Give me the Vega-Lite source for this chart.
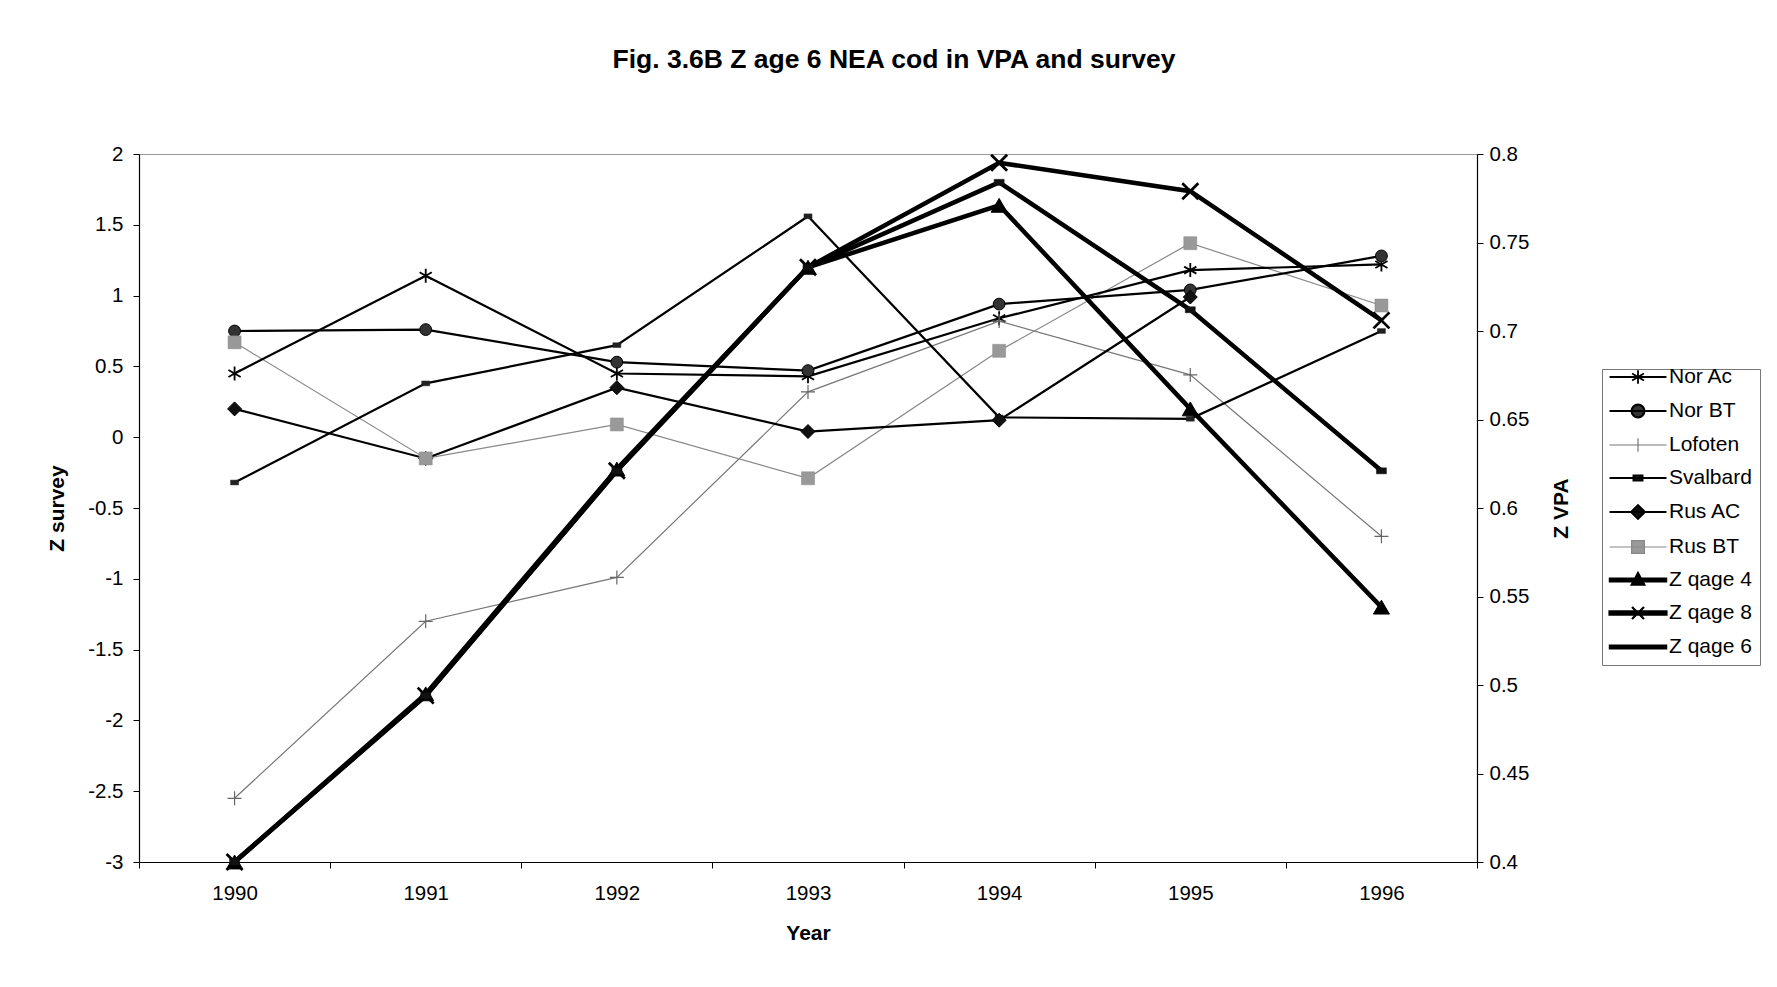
{
  "$schema": "https://vega.github.io/schema/vega-lite/v6.json",
  "width": 1338,
  "height": 708,
  "autosize": {"type": "none"},
  "padding": {"left": 139, "top": 154, "right": 300, "bottom": 125},
  "background": "white",
  "title": {
    "text": "Fig. 3.6B Z age 6 NEA cod in VPA and survey",
    "font": "Liberation Sans",
    "fontSize": 26.5,
    "fontWeight": "bold",
    "color": "#000",
    "anchor": "middle",
    "frame": "group",
    "dx": 86,
    "offset": 50,
    "baseline": "alphabetic"
  },
  "datasets": {
    "survey": [
      {"year": 1990, "series": "Nor Ac", "v": 0.45},
      {"year": 1991, "series": "Nor Ac", "v": 1.14},
      {"year": 1992, "series": "Nor Ac", "v": 0.45},
      {"year": 1993, "series": "Nor Ac", "v": 0.43},
      {"year": 1994, "series": "Nor Ac", "v": 0.84},
      {"year": 1995, "series": "Nor Ac", "v": 1.18},
      {"year": 1996, "series": "Nor Ac", "v": 1.22},
      {"year": 1990, "series": "Nor BT", "v": 0.75},
      {"year": 1991, "series": "Nor BT", "v": 0.76},
      {"year": 1992, "series": "Nor BT", "v": 0.53},
      {"year": 1993, "series": "Nor BT", "v": 0.47},
      {"year": 1994, "series": "Nor BT", "v": 0.94},
      {"year": 1995, "series": "Nor BT", "v": 1.04},
      {"year": 1996, "series": "Nor BT", "v": 1.28},
      {"year": 1990, "series": "Lofoten", "v": -2.55},
      {"year": 1991, "series": "Lofoten", "v": -1.3},
      {"year": 1992, "series": "Lofoten", "v": -0.99},
      {"year": 1993, "series": "Lofoten", "v": 0.32},
      {"year": 1994, "series": "Lofoten", "v": 0.82},
      {"year": 1995, "series": "Lofoten", "v": 0.44},
      {"year": 1996, "series": "Lofoten", "v": -0.7},
      {"year": 1990, "series": "Svalbard", "v": -0.32},
      {"year": 1991, "series": "Svalbard", "v": 0.38},
      {"year": 1992, "series": "Svalbard", "v": 0.65},
      {"year": 1993, "series": "Svalbard", "v": 1.56},
      {"year": 1994, "series": "Svalbard", "v": 0.14},
      {"year": 1995, "series": "Svalbard", "v": 0.13},
      {"year": 1996, "series": "Svalbard", "v": 0.75},
      {"year": 1990, "series": "Rus AC", "v": 0.2},
      {"year": 1991, "series": "Rus AC", "v": -0.15},
      {"year": 1992, "series": "Rus AC", "v": 0.35},
      {"year": 1993, "series": "Rus AC", "v": 0.04},
      {"year": 1994, "series": "Rus AC", "v": 0.12},
      {"year": 1995, "series": "Rus AC", "v": 0.99},
      {"year": 1990, "series": "Rus BT", "v": 0.67},
      {"year": 1991, "series": "Rus BT", "v": -0.15},
      {"year": 1992, "series": "Rus BT", "v": 0.09},
      {"year": 1993, "series": "Rus BT", "v": -0.29},
      {"year": 1994, "series": "Rus BT", "v": 0.61},
      {"year": 1995, "series": "Rus BT", "v": 1.37},
      {"year": 1996, "series": "Rus BT", "v": 0.93}
    ],
    "vpa": [
      {"year": 1990, "series": "Z qage 4", "v": 0.4},
      {"year": 1991, "series": "Z qage 4", "v": 0.495},
      {"year": 1992, "series": "Z qage 4", "v": 0.622},
      {"year": 1993, "series": "Z qage 4", "v": 0.736},
      {"year": 1994, "series": "Z qage 4", "v": 0.771},
      {"year": 1995, "series": "Z qage 4", "v": 0.656},
      {"year": 1996, "series": "Z qage 4", "v": 0.544},
      {"year": 1990, "series": "Z qage 8", "v": 0.4},
      {"year": 1991, "series": "Z qage 8", "v": 0.494},
      {"year": 1992, "series": "Z qage 8", "v": 0.621},
      {"year": 1993, "series": "Z qage 8", "v": 0.736},
      {"year": 1994, "series": "Z qage 8", "v": 0.795},
      {"year": 1995, "series": "Z qage 8", "v": 0.779},
      {"year": 1996, "series": "Z qage 8", "v": 0.706},
      {"year": 1990, "series": "Z qage 6", "v": 0.4},
      {"year": 1991, "series": "Z qage 6", "v": 0.494},
      {"year": 1992, "series": "Z qage 6", "v": 0.621},
      {"year": 1993, "series": "Z qage 6", "v": 0.736},
      {"year": 1994, "series": "Z qage 6", "v": 0.784},
      {"year": 1995, "series": "Z qage 6", "v": 0.712},
      {"year": 1996, "series": "Z qage 6", "v": 0.621}
    ]
  },
  "config": {
    "view": {"stroke": "#999", "strokeWidth": 1},
    "axis": {
      "labelFont": "Liberation Sans",
      "labelFontSize": 20.5,
      "labelColor": "#000",
      "titleFont": "Liberation Sans",
      "titleFontSize": 21,
      "titleFontWeight": "bold",
      "titleColor": "#000",
      "domainColor": "#000",
      "domainWidth": 1.2,
      "tickColor": "#000",
      "tickSize": 6,
      "grid": false
    },
    "legend": {
      "labelFont": "Liberation Sans",
      "labelFontSize": 21,
      "labelColor": "#000",
      "strokeColor": "#777",
      "padding": 8,
      "rowPadding": 12,
      "symbolSize": 256
    }
  },
  "encoding": {
    "x": {
      "field": "year",
      "type": "ordinal",
      "bandPosition": 0.5,
      "scale": {"type": "band", "paddingInner": 0, "paddingOuter": 0},
      "axis": {"title": "Year", "labelAngle": 0, "tickBand": "extent", "labelPadding": 15, "titlePadding": 19}
    }
  },
  "layer": [
    {
      "data": {"name": "survey"},
      "encoding": {
        "y": {
          "field": "v",
          "type": "quantitative",
          "scale": {"domain": [-3, 2], "nice": false, "zero": false},
          "axis": {
            "title": "Z survey",
            "orient": "left",
            "values": [-3, -2.5, -2, -1.5, -1, -0.5, 0, 0.5, 1, 1.5, 2],
            "labelExpr": "toString(datum.value)",
            "labelPadding": 10,
            "titlePadding": 20
          }
        }
      },
      "layer": [
        {
          "transform": [{"filter": {"field": "series", "oneOf": ["Lofoten", "Rus BT"]}}],
          "mark": {"type": "line", "strokeWidth": 1.2},
          "encoding": {
            "color": {
              "field": "series",
              "type": "nominal",
              "scale": {
                "domain": ["Nor Ac", "Nor BT", "Lofoten", "Svalbard", "Rus AC", "Rus BT", "Z qage 4", "Z qage 8", "Z qage 6"],
                "range": ["#000", "#000", "#777", "#000", "#000", "#888", "#000", "#000", "#000"]
              },
              "legend": {
                "title": null,
                "orient": "none",
                "legendX": 1463,
                "legendY": 215,
                "encode": {
                  "symbols": {
                    "update": {
                      "shape": {"signal": "['M-0.06,0H7.06M3.5,-0.85V0.85M2.76,-0.43L4.24,0.43M2.76,0.43L4.24,-0.43','M-0.06,0H7.06M4.3,0A0.8,0.8,0,1,1,2.7,0A0.8,0.8,0,1,1,4.3,0Z','M-0.06,0H7.06M3.5,-0.85V0.85','M-0.06,0H7.06M2.94,-0.31H4.06V0.31H2.94Z','M-0.06,0H7.06M3.5,-0.85L4.35,0L3.5,0.85L2.65,0Z','M-0.06,0H7.06M2.7,-0.8H4.3V0.8H2.7Z','M-0.06,-0.22H7.06V0.22H-0.06ZM3.5,-0.95L4.35,0.62H2.65Z','M-0.06,-0.22H7.06V0.22H-0.06ZM2.75,-0.75L4.25,0.75M2.75,0.75L4.25,-0.75','M-0.06,-0.22H7.06V0.22H-0.06Z'][indexof(['Nor Ac','Nor BT','Lofoten','Svalbard','Rus AC','Rus BT','Z qage 4','Z qage 8','Z qage 6'], datum.value)]"},
                      "fill": {"signal": "['transparent','#333','transparent','#222','#111','#999','#000','#000','#000'][indexof(['Nor Ac','Nor BT','Lofoten','Svalbard','Rus AC','Rus BT','Z qage 4','Z qage 8','Z qage 6'], datum.value)]"},
                      "stroke": {"signal": "['#000','#000','#777','#000','#000','#888','#000','#000','#000'][indexof(['Nor Ac','Nor BT','Lofoten','Svalbard','Rus AC','Rus BT','Z qage 4','Z qage 8','Z qage 6'], datum.value)]"},
                      "strokeWidth": {"signal": "[1.8,2.2,1.2,2,2.2,1.2,1.5,2.2,1.5][indexof(['Nor Ac','Nor BT','Lofoten','Svalbard','Rus AC','Rus BT','Z qage 4','Z qage 8','Z qage 6'], datum.value)]"},
                      "opacity": {"value": 1}
                    }
                  },
                  "labels": {
                    "update": {
                      "dx": {"value": 59}
                    }
                  }
                }
              }
            }
          }
        },
        {
          "transform": [{"filter": {"field": "series", "oneOf": ["Nor Ac", "Nor BT", "Svalbard", "Rus AC"]}}],
          "mark": {"type": "line", "strokeWidth": 2.2},
          "encoding": {
            "color": {"field": "series", "type": "nominal"}
          }
        },
        {
          "transform": [{"filter": {"field": "series", "equal": "Nor Ac"}}],
          "mark": {"type": "point", "shape": "M0,-1V1M-0.87,-0.5L0.87,0.5M-0.87,0.5L0.87,-0.5", "size": 196, "filled": false, "stroke": "#000", "strokeWidth": 1.8, "opacity": 1},
          "encoding": {}
        },
        {
          "transform": [{"filter": {"field": "series", "equal": "Nor BT"}}],
          "mark": {"type": "point", "shape": "circle", "size": 140, "filled": true, "fill": "#333", "stroke": "#000", "strokeWidth": 1, "opacity": 1},
          "encoding": {}
        },
        {
          "transform": [{"filter": {"field": "series", "equal": "Lofoten"}}],
          "mark": {"type": "point", "shape": "M-1,0H1M0,-1V1", "size": 196, "filled": false, "stroke": "#666", "strokeWidth": 1.2, "opacity": 1},
          "encoding": {}
        },
        {
          "transform": [{"filter": {"field": "series", "equal": "Svalbard"}}],
          "mark": {"type": "point", "shape": "M-1,-0.6H1V0.6H-1Z", "size": 64, "filled": true, "fill": "#222", "stroke": "#222", "strokeWidth": 0.5, "opacity": 1},
          "encoding": {}
        },
        {
          "transform": [{"filter": {"field": "series", "equal": "Rus AC"}}],
          "mark": {"type": "point", "shape": "diamond", "size": 196, "filled": true, "fill": "#111", "stroke": "#000", "strokeWidth": 1, "opacity": 1},
          "encoding": {}
        },
        {
          "transform": [{"filter": {"field": "series", "equal": "Rus BT"}}],
          "mark": {"type": "point", "shape": "square", "size": 169, "filled": true, "fill": "#999", "stroke": "#888", "strokeWidth": 0.5, "opacity": 1},
          "encoding": {}
        }
      ]
    },
    {
      "data": {"name": "vpa"},
      "encoding": {
        "y": {
          "field": "v",
          "type": "quantitative",
          "scale": {"domain": [0.4, 0.8], "nice": false, "zero": false},
          "axis": {
            "title": "Z VPA",
            "orient": "right",
            "values": [0.4, 0.45, 0.5, 0.55, 0.6, 0.65, 0.7, 0.75, 0.8],
            "format": ".2~f",
            "labelPadding": 6,
            "titleAngle": 270,
            "titleBaseline": "top",
            "titlePadding": 22
          }
        }
      },
      "layer": [
        {
          "mark": {"type": "line", "strokeWidth": 4.5},
          "encoding": {
            "color": {"field": "series", "type": "nominal"}
          }
        },
        {
          "transform": [{"filter": {"field": "series", "equal": "Z qage 4"}}],
          "mark": {"type": "point", "shape": "triangle-up", "size": 256, "filled": true, "fill": "#000", "stroke": "#000", "strokeWidth": 1, "opacity": 1},
          "encoding": {}
        },
        {
          "transform": [{"filter": {"field": "series", "equal": "Z qage 8"}}],
          "mark": {"type": "point", "shape": "M-1,-1L1,1M-1,1L1,-1", "size": 256, "filled": false, "stroke": "#000", "strokeWidth": 2.8, "opacity": 1},
          "encoding": {}
        },
        {
          "transform": [{"filter": {"field": "series", "equal": "Z qage 6"}}],
          "mark": {"type": "point", "shape": "M-1,-0.6H1V0.6H-1Z", "size": 100, "filled": true, "fill": "#111", "stroke": "#111", "strokeWidth": 0.5, "opacity": 1},
          "encoding": {}
        }
      ]
    }
  ],
  "resolve": {"scale": {"y": "independent"}, "axis": {"y": "independent"}}
}
